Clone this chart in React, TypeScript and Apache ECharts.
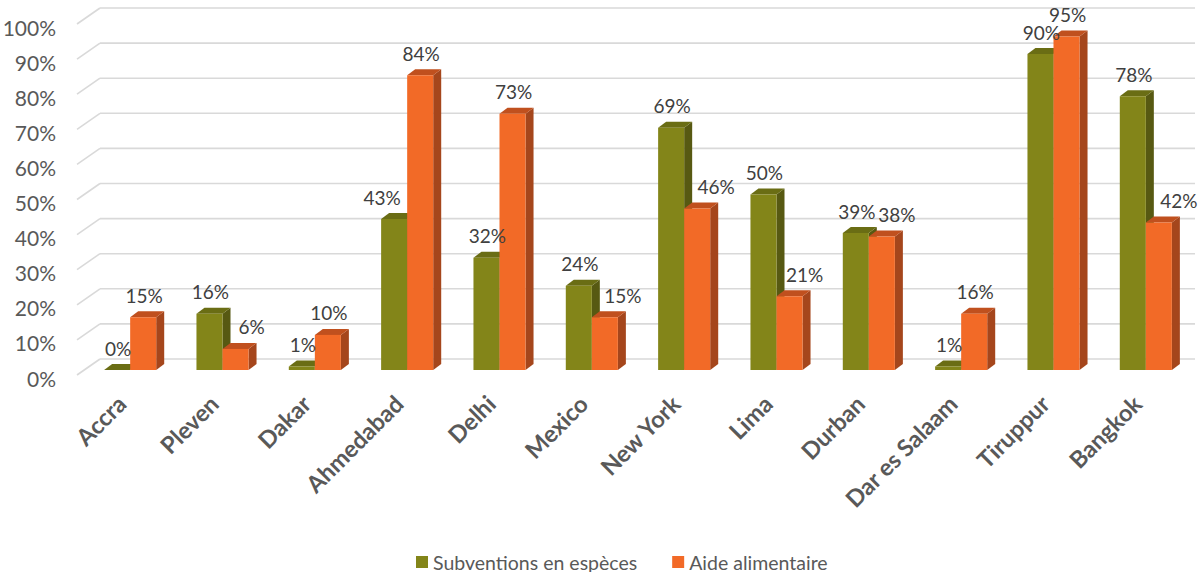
import React, { useEffect, useRef } from "react";
import * as echarts from "echarts";

const categories = ["Accra", "Pleven", "Dakar", "Ahmedabad", "Delhi", "Mexico", "New York", "Lima", "Durban", "Dar es Salaam", "Tiruppur", "Bangkok"];
const cashValues = [0, 16, 1, 43, 32, 24, 69, 50, 39, 1, 90, 78];
const foodValues = [15, 6, 10, 84, 73, 15, 46, 21, 38, 16, 95, 42];
const tickValues = [0, 10, 20, 30, 40, 50, 60, 70, 80, 90, 100];

// horizontal nudges of the data labels (px), as placed in the original chart
const cashLabelShift = [0, 0, 0, -13, 0, 0, 0, 0, 0, 0, 0, 0];
const foodLabelShift = [0, 15, 0, 0, 0, 17, 18, 14, 14, 0, 0, 19];

const FONT = "Lato, 'Open Sans', sans-serif";
const GREEN = { front: "#838519", top: "#6A6D14", side: "#575912" };
const ORANGE = { front: "#F26A27", top: "#C0501E", side: "#A5461C" };
const DX = 8;
const DY = 6;
const BAR_RATIO = 0.282;

function barGeom(api: any, leftSide: boolean) {
  const idx = api.value(0);
  const val = api.value(1);
  const base = api.coord([idx, 0]);
  const top = api.coord([idx, val]);
  const band = api.size([1, 0])[0];
  const w = band * BAR_RATIO;
  const cx = base[0];
  const x0 = leftSide ? cx - w : cx;
  const x1 = leftSide ? cx : cx + w;
  return { idx, val, x0, x1, yb: base[1], yt: top[1] };
}

function barRenderer(colors: { front: string; top: string; side: string }, leftSide: boolean) {
  return (params: any, api: any) => {
    const { x0, x1, yb, yt } = barGeom(api, leftSide);
    return {
      type: "group",
      children: [
        {
          type: "polygon",
          shape: { points: [[x1, yt], [x1 + DX, yt - DY], [x1 + DX, yb - DY], [x1, yb]] },
          style: { fill: colors.side },
        },
        {
          type: "polygon",
          shape: { points: [[x0, yt], [x0 + DX, yt - DY], [x1 + DX, yt - DY], [x1, yt]] },
          style: { fill: colors.top },
        },
        {
          type: "rect",
          shape: { x: x0, y: yt, width: x1 - x0, height: yb - yt },
          style: { fill: colors.front },
        },
      ],
    };
  };
}

function labelRenderer(leftSide: boolean, shifts: number[]) {
  return (params: any, api: any) => {
    const { idx, val, x0, x1, yt } = barGeom(api, leftSide);
    return {
      type: "text",
      style: {
        x: (x0 + x1) / 2 + 1 + (shifts[idx] || 0),
        y: yt - 22,
        text: val + "%",
        align: "center",
        verticalAlign: "middle",
        fill: "#404040",
        font: "19px " + FONT,
      },
    };
  };
}

function wallRenderer(params: any, api: any) {
  const v = api.value(0);
  const p = api.coord([0, v]);
  const y = p[1];
  const cs = params.coordSys;
  const frontX = 77;
  const backX = 100;
  const backY = y - 11;
  const frontY = y + 5;
  return {
    type: "group",
    children: [
      {
        type: "line",
        shape: { x1: frontX, y1: frontY, x2: backX, y2: backY },
        style: { stroke: "#D9D9D9", lineWidth: 1.6 },
      },
      {
        type: "line",
        shape: { x1: backX, y1: backY, x2: cs.x + cs.width + 3, y2: backY },
        style: { stroke: "#D9D9D9", lineWidth: 1.6 },
      },
      {
        type: "text",
        style: {
          x: 56,
          y: y + 8,
          text: v + "%",
          align: "right",
          verticalAlign: "middle",
          fill: "#595959",
          font: "21px " + FONT,
        },
      },
    ],
  };
}

export default function App() {
  const ref = useRef<HTMLDivElement>(null);
  useEffect(() => {
    if (!ref.current) return;
    const chart = echarts.init(ref.current, undefined, { renderer: "svg" });
    chart.setOption({
      animation: false,
      backgroundColor: "#ffffff",
      textStyle: { fontFamily: FONT },
      grid: { left: 84, width: 1108, top: 19, bottom: 202, containLabel: false },
      legend: {
        data: ["Subventions en espèces", "Aide alimentaire"],
        left: 411,
        top: 547,
        icon: "rect",
        itemWidth: 12,
        itemHeight: 12,
        itemGap: 35,
        textStyle: { color: "#595959", fontSize: 19.5, fontFamily: FONT },
      },
      xAxis: {
        type: "category",
        data: categories,
        axisLine: { show: false },
        axisTick: { show: false },
        axisLabel: {
          rotate: 45,
          margin: 21,
          interval: 0,
          color: "#595959",
          fontSize: 23.5,
          fontWeight: "bold",
          fontFamily: FONT,
          padding: [0, 12, 0, 0],
        },
      },
      yAxis: {
        type: "value",
        min: 0,
        max: 100,
        interval: 10,
        axisLine: { show: false },
        axisTick: { show: false },
        splitLine: { show: false },
        axisLabel: { show: false },
      },
      series: [
        {
          name: "wall",
          type: "custom",
          renderItem: wallRenderer,
          data: tickValues.map((v) => [v]),
          encode: { y: 0 },
          silent: true,
          z: 1,
        },
        {
          name: "Subventions en espèces",
          type: "custom",
          renderItem: barRenderer(GREEN, true),
          data: cashValues.map((v, i) => [i, v]),
          encode: { x: 0, y: 1 },
          itemStyle: { color: GREEN.front },
          z: 2,
        },
        {
          name: "Aide alimentaire",
          type: "custom",
          renderItem: barRenderer(ORANGE, false),
          data: foodValues.map((v, i) => [i, v]),
          encode: { x: 0, y: 1 },
          itemStyle: { color: ORANGE.front },
          z: 3,
        },
        {
          name: "cashLabels",
          type: "custom",
          renderItem: labelRenderer(true, cashLabelShift),
          data: cashValues.map((v, i) => [i, v]),
          encode: { x: 0, y: 1 },
          silent: true,
          z: 5,
        },
        {
          name: "foodLabels",
          type: "custom",
          renderItem: labelRenderer(false, foodLabelShift),
          data: foodValues.map((v, i) => [i, v]),
          encode: { x: 0, y: 1 },
          silent: true,
          z: 6,
        },
      ],
    });
    return () => chart.dispose();
  }, []);
  return (
    <div
      ref={ref}
      style={{ position: "absolute", left: 0, top: 0, width: 1201, height: 572 }}
    />
  );
}
